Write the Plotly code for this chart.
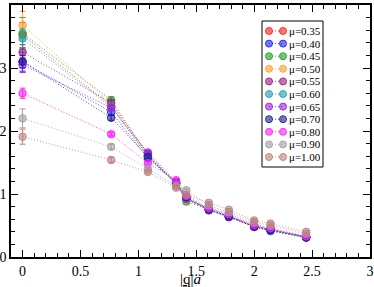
import plotly.graph_objects as go

# ---- data ----
q_values = [0.0, 0.765, 1.082, 1.326, 1.414, 1.608, 1.781, 2.0, 2.141, 2.449]
mu_labels = ["μ=0.35", "μ=0.40", "μ=0.45", "μ=0.50", "μ=0.55", "μ=0.60",
             "μ=0.65", "μ=0.70", "μ=0.80", "μ=0.90", "μ=1.00"]

y_035 = [3.52, 2.40, 1.60, 1.16, 0.92, 0.76, 0.65, 0.49, 0.44, 0.32]
y_040 = [3.10, 2.30, 1.57, 1.17, 0.93, 0.77, 0.66, 0.49, 0.44, 0.32]
y_045 = [3.55, 2.49, 1.62, 1.15, 0.88, 0.75, 0.64, 0.48, 0.43, 0.31]
y_050 = [3.68, 2.43, 1.61, 1.16, 0.91, 0.76, 0.64, 0.47, 0.43, 0.31]
y_055 = [3.25, 2.45, 1.63, 1.17, 0.92, 0.75, 0.64, 0.48, 0.43, 0.31]
y_060 = [3.47, 2.38, 1.60, 1.17, 0.93, 0.76, 0.65, 0.48, 0.41, 0.31]
y_065 = [3.05, 2.37, 1.66, 1.19, 0.94, 0.74, 0.63, 0.49, 0.43, 0.31]
y_070 = [3.10, 2.21, 1.59, 1.19, 0.95, 0.75, 0.64, 0.48, 0.42, 0.31]
y_080 = [2.60, 1.95, 1.49, 1.22, 0.97, 0.78, 0.68, 0.51, 0.46, 0.33]
y_090 = [2.20, 1.75, 1.40, 1.13, 1.06, 0.82, 0.71, 0.55, 0.50, 0.37]
y_100 = [1.91, 1.54, 1.35, 1.10, 0.99, 0.86, 0.75, 0.58, 0.53, 0.40]

e_035 = [0.20, 0.05, 0.03, 0.02, 0.02, 0.02, 0.02, 0.02, 0.02, 0.02]
e_040 = [0.15, 0.05, 0.03, 0.02, 0.02, 0.02, 0.02, 0.02, 0.02, 0.02]
e_045 = [0.25, 0.05, 0.03, 0.02, 0.02, 0.02, 0.02, 0.02, 0.02, 0.02]
e_050 = [0.22, 0.05, 0.03, 0.02, 0.02, 0.02, 0.02, 0.02, 0.02, 0.02]
e_055 = [0.12, 0.04, 0.03, 0.02, 0.02, 0.02, 0.02, 0.02, 0.02, 0.02]
e_060 = [0.15, 0.05, 0.03, 0.02, 0.02, 0.02, 0.02, 0.02, 0.02, 0.02]
e_065 = [0.12, 0.04, 0.03, 0.02, 0.02, 0.02, 0.02, 0.02, 0.02, 0.02]
e_070 = [0.10, 0.04, 0.03, 0.02, 0.02, 0.02, 0.02, 0.02, 0.02, 0.02]
e_080 = [0.08, 0.03, 0.02, 0.02, 0.02, 0.02, 0.02, 0.02, 0.02, 0.02]
e_090 = [0.15, 0.04, 0.02, 0.02, 0.02, 0.02, 0.02, 0.02, 0.02, 0.02]
e_100 = [0.12, 0.04, 0.02, 0.02, 0.02, 0.02, 0.02, 0.02, 0.02, 0.02]

series_y = [y_035, y_040, y_045, y_050, y_055, y_060, y_065, y_070, y_080, y_090, y_100]
series_e = [e_035, e_040, e_045, e_050, e_055, e_060, e_065, e_070, e_080, e_090, e_100]

colors = ["#ff2020", "#2020ff", "#20a020", "#ffa030", "#9c1f7f", "#20a0b0",
          "#a020e0", "#20209a", "#ff20ff", "#a0a0a0", "#c08080"]

x_tick_vals = [0, 0.5, 1, 1.5, 2, 2.5, 3]
x_tick_text = ["0", "0.5", "1", "1.5", "2", "2.5", "3"]
y_tick_vals = [0, 1, 2, 3, 4]
y_tick_text = ["0", "1", "2", "3", "4"]
x_title = "|<u>q</u>|<i>a</i>"

# ---- layout constants ----
W, H = 374, 287
ML, MR, MT, MB = 11, 4, 5, 30
FONT = "Liberation Serif"

def rgba(hexc, a):
    h = hexc.lstrip("#")
    r, g, b = int(h[0:2], 16), int(h[2:4], 16), int(h[4:6], 16)
    return f"rgba({r},{g},{b},{a})"

fig = go.Figure()

for yv, ev, c, name in zip(series_y, series_e, colors, mu_labels):
    fig.add_trace(go.Scatter(
        x=q_values, y=yv, name=name, mode="lines+markers",
        line=dict(color=rgba(c, 0.85), width=1, dash="1px,2px"),
        marker=dict(symbol="circle", size=7.5, color=rgba(c, 0.6),
                    line=dict(color=rgba(c, 0.9), width=1)),
        error_y=dict(type="data", array=ev, visible=True, color=c,
                     thickness=1, width=3),
        showlegend=False, xaxis="x", yaxis="y",
    ))

# ---- hand-built legend on a pixel-scaled overlay axis ----
LEG_BOX = (262, 21, 323, 167)
LEG_Y0, LEG_DY = 31, 12.6
LEG_MX0, LEG_MX1, LEG_TX = 269, 283, 287

for i, (c, name) in enumerate(zip(colors, mu_labels)):
    yc = LEG_Y0 + i * LEG_DY
    fig.add_trace(go.Scatter(
        x=[LEG_MX0, LEG_MX1], y=[yc, yc], mode="lines+markers",
        line=dict(color=rgba(c, 0.85), width=1, dash="1px,2px"),
        marker=dict(symbol="circle", size=7, color=rgba(c, 0.6),
                    line=dict(color=rgba(c, 0.9), width=1)),
        showlegend=False, hoverinfo="skip", xaxis="x2", yaxis="y2",
    ))
    fig.add_annotation(x=LEG_TX, y=yc, xref="x2", yref="y2", text=name,
                       showarrow=False, xanchor="left", yanchor="middle",
                       font=dict(family=FONT, size=11, color="black"))

fig.add_shape(type="rect", xref="x2", yref="y2",
              x0=LEG_BOX[0], y0=LEG_BOX[1], x1=LEG_BOX[2], y1=LEG_BOX[3],
              line=dict(color="black", width=1), fillcolor="rgba(0,0,0,0)")

# x-axis title placed below tick labels
fig.add_annotation(x=0.5, y=-(279 - (H - MB)) / (H - MT - MB), xref="paper", yref="paper",
                   text=x_title, showarrow=False, xanchor="center", yanchor="middle",
                   font=dict(family=FONT, size=15, color="black"))

axis_common = dict(
    showgrid=False, zeroline=False, showline=True, linecolor="black",
    linewidth=1.5, ticks="inside", ticklen=7, tickwidth=1, tickcolor="black",
    mirror="ticks", automargin=False,
    tickfont=dict(family=FONT, size=14, color="black"),
)

fig.update_layout(
    width=W, height=H,
    margin=dict(l=ML, r=MR, t=MT, b=MB),
    paper_bgcolor="white", plot_bgcolor="white",
    showlegend=False,
    xaxis=dict(range=[-0.1, 3], tickvals=x_tick_vals, ticktext=x_tick_text,
               minor=dict(dtick=0.1, ticklen=4, ticks="inside", tickcolor="black"),
               **axis_common),
    yaxis=dict(range=[0, 4], tickvals=y_tick_vals, ticktext=y_tick_text,
               minor=dict(dtick=0.2, ticklen=4, ticks="inside", tickcolor="black"),
               **axis_common),
    xaxis2=dict(range=[ML, W - MR], overlaying="x", anchor="y2", visible=False),
    yaxis2=dict(range=[H - MB, MT], overlaying="y", anchor="x2", visible=False),
)

fig.write_html("out.html",
               config={"displayModeBar": False},
               post_script="document.body.style.margin='0';document.body.style.padding='0';")
